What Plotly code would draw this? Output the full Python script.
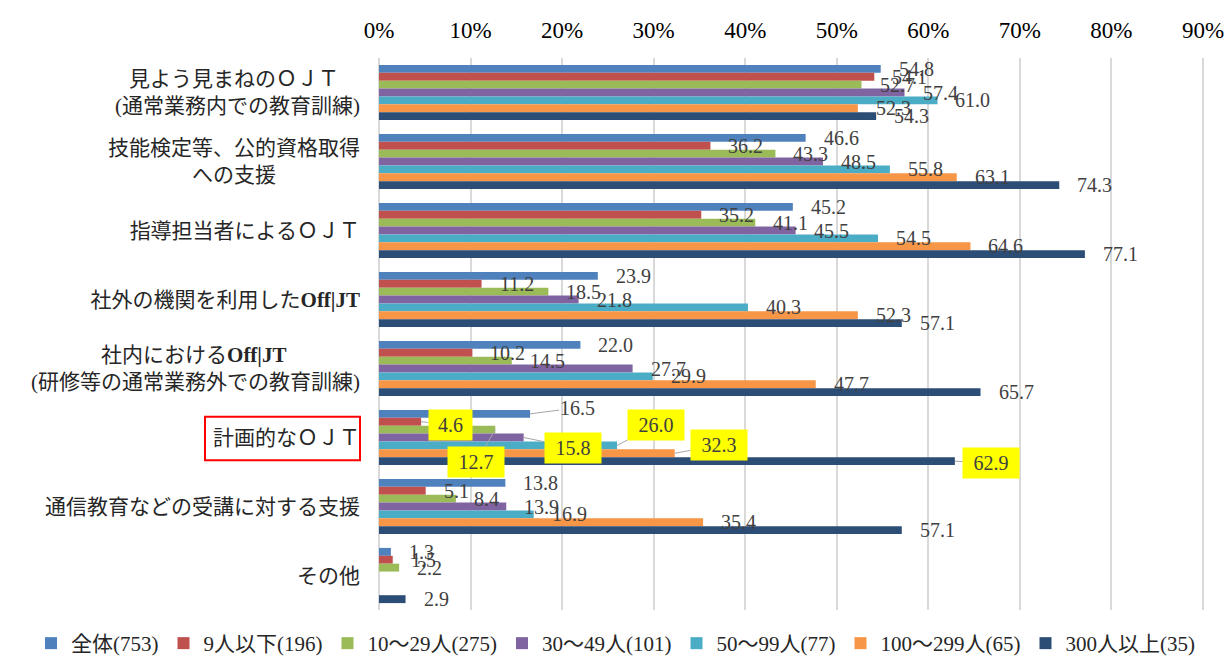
import plotly.graph_objects as go

# ---- data ----
categories = [
    "見よう見まねのＯＪＴ\u3000<br>(通常業務内での教育訓練)",
    "技能検定等、公的資格取得<br>への支援\u3000\u3000\u3000\u3000",
    "指導担当者によるＯＪＴ",
    "社外の機関を利用した<b>Off|JT</b>",
    "社内における<b>Off|JT</b>\u3000\u3000\u3000\u2002<br>(研修等の通常業務外での教育訓練)",
    "計画的なＯＪＴ",
    "通信教育などの受講に対する支援",
    "その他",
]
series_names = ["全体(753)", "9人以下(196)", "10〜29人(275)", "30〜49人(101)",
                "50〜99人(77)", "100〜299人(65)", "300人以上(35)"]
zentai   = [54.8, 46.6, 45.2, 23.9, 22.0, 16.5, 13.8, 1.3]
s_9      = [54.1, 36.2, 35.2, 11.2, 10.2, 4.6, 5.1, 1.5]
s_10_29  = [52.7, 43.3, 41.1, 18.5, 14.5, 12.7, 8.4, 2.2]
s_30_49  = [57.4, 48.5, 45.5, 21.8, 27.7, 15.8, 13.9, 0.0]
s_50_99  = [61.0, 55.8, 54.5, 40.3, 29.9, 26.0, 16.9, 0.0]
s_100_299= [52.3, 63.1, 64.6, 52.3, 47.7, 32.3, 35.4, 0.0]
s_300    = [54.3, 74.3, 77.1, 57.1, 65.7, 62.9, 57.1, 2.9]
series_values = [zentai, s_9, s_10_29, s_30_49, s_50_99, s_100_299, s_300]
colors = ["#4F81BD", "#C0504D", "#9BBB59", "#8064A2", "#4BACC6", "#F79646", "#2C4D75"]
x_ticks = list(range(0, 91, 10))

highlight_cat = 5   # 計画的なＯＪＴ
# label offsets (px) for highlighted group: (ax, ay, yellow)
hl_offsets = {0: (47, -6, False), 1: (29, 3, True), 2: (-19, 32, True), 3: (49, 10, True),
              4: (39, -20, True), 5: (44, -8, True), 6: (36, 2, True)}

FONT = "Liberation Serif, Noto Sans CJK JP"
BARGAP = 0.2
n = len(series_names)
L, R, T, B, W, H = 379, 0, 58, 54, 1227, 664
X90_PX = 1203                      # pixel position of the 90% gridline
PW = W - L - R
PH = H - T - B
x_max = 90 * PW / (X90_PX - L)     # axis runs a bit past 90% with no visible border

fig = go.Figure()
for name, vals, col in zip(series_names, series_values, colors):
    fig.add_trace(go.Bar(
        y=list(range(len(categories))), x=vals, name=name, orientation="h",
        marker=dict(color=col, line=dict(width=0)),
    ))

annotations = []
bw = (1 - BARGAP) / n
for i, vals in enumerate(series_values):
    for c, v in enumerate(vals):
        if v == 0:
            continue
        yc = c - (1 - BARGAP) / 2 + (i + 0.5) * bw
        txt = f"{v:.1f}"
        if c == highlight_cat:
            ax, ay, yellow = hl_offsets[i]
            annotations.append(dict(
                x=v, y=yc, xref="x", yref="y", text=txt, showarrow=True,
                ax=ax, ay=ay, arrowhead=0, arrowwidth=1, arrowcolor="#A6A6A6",
                standoff=0, startstandoff=0,
                font=dict(family=FONT, size=20, color="#404040"),
                bgcolor="#FFFF00" if yellow else None,
                borderpad=4 if yellow else 0,
                width=(13 * len(txt) - 4) if yellow else None,
            ))
        else:
            annotations.append(dict(
                x=v, y=yc, xref="x", yref="y", text=txt, showarrow=False,
                xanchor="left", yanchor="middle", xshift=16,
                font=dict(family=FONT, size=20, color="#404040"),
            ))

fig.update_layout(
    width=W, height=H,
    margin=dict(l=L, r=R, t=T, b=B),
    paper_bgcolor="white", plot_bgcolor="white",
    barmode="group", bargap=BARGAP, bargroupgap=0,
    font=dict(family=FONT, color="#404040"),
    xaxis=dict(side="top", range=[0, x_max], tickvals=x_ticks,
               ticktext=[f"{t}%" for t in x_ticks], automargin=False,
               showgrid=True, gridcolor="#D9D9D9", gridwidth=1.5,
               zeroline=True, zerolinecolor="#D9D9D9", zerolinewidth=1.5,
               showline=False, ticks="", ticklabelstandoff=14,
               tickfont=dict(family=FONT, size=23, color="#000000")),
    yaxis=dict(tickmode="array", tickvals=list(range(len(categories))), ticktext=categories,
               range=[len(categories) - 0.5, -0.5], showgrid=False, zeroline=False,
               ticks="", ticklabelstandoff=18, automargin=False,
               tickfont=dict(family=FONT, size=21, color="#262626")),
    legend=dict(orientation="h", xref="paper", yref="paper",
                x=(31 - L) / PW, xanchor="left", y=-B / PH, yanchor="bottom",
                traceorder="normal", itemwidth=30, tracegroupgap=0,
                font=dict(family=FONT, size=21, color="#262626")),
    annotations=annotations,
    shapes=[dict(type="rect", xref="paper", yref="y",
                 x0=(205 - L) / PW, x1=(360 - L) / PW,
                 y0=highlight_cat - 0.30, y1=highlight_cat + 0.33,
                 line=dict(color="#FF0000", width=2))],
)

fig.write_html("out.html", config={"displayModeBar": False},
               post_script="document.body.style.margin='0';")
